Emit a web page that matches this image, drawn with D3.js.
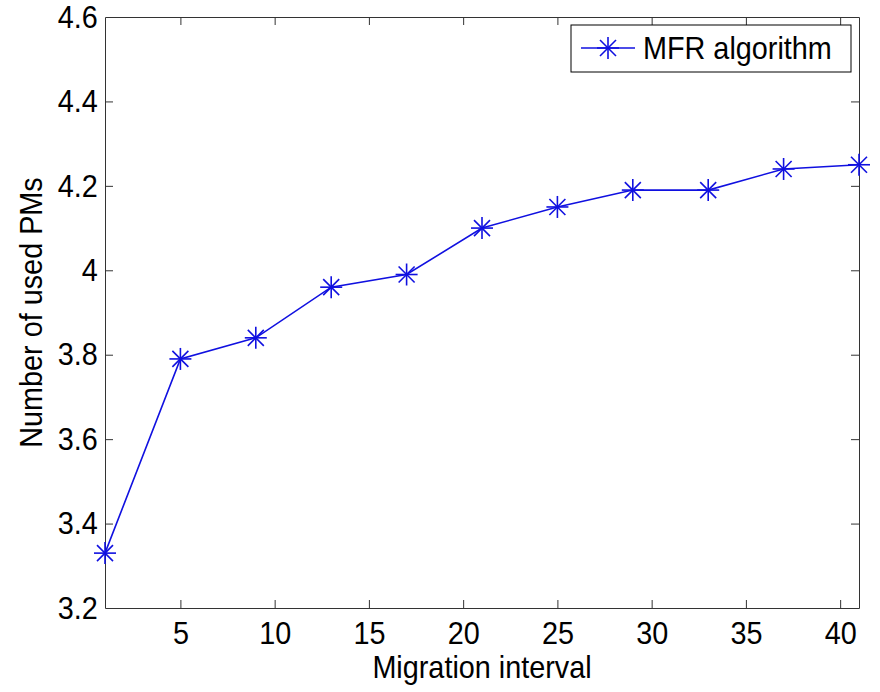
<!DOCTYPE html>
<html>
<head>
<meta charset="utf-8">
<script src="https://cdn.jsdelivr.net/npm/d3@7"></script>
<style>
  body { margin: 0; background: #fff; }
  text { font-family: "Liberation Sans", Arial, sans-serif; fill: #000; }
</style>
</head>
<body>
<div id="chart"></div>
<script>
// data
const intervals = [1, 5, 9, 13, 17, 21, 25, 29, 33, 37, 41];
const usedPMs = [3.33, 3.79, 3.84, 3.96, 3.99, 4.10, 4.15, 4.19, 4.19, 4.24, 4.25];
const xTicks = [5, 10, 15, 20, 25, 30, 35, 40];
const yTicks = [3.2, 3.4, 3.6, 3.8, 4, 4.2, 4.4, 4.6];
const seriesName = "MFR algorithm";

const width = 880, height = 692;
const margin = { top: 17, right: 21, bottom: 84, left: 105 };
const innerW = width - margin.left - margin.right;
const innerH = height - margin.top - margin.bottom;
const blue = "#1010e0";
const axisColor = "#333";
const fontSize = "32px";
const squeeze = "scale(0.9,1)"; // the original text looks a bit narrow

const svg = d3.select("#chart").append("svg")
  .attr("width", width)
  .attr("height", height);

const chart = svg.append("g")
  .attr("transform", `translate(${margin.left},${margin.top})`);

const x = d3.scaleLinear().domain([1, 41]).range([0, innerW]);
const y = d3.scaleLinear().domain([3.2, 4.6]).range([innerH, 0]);

// axes, ticks pointing inward like matlab
const fmtY = d => (d === 4 ? "4" : d3.format(".1f")(d));
const xAxisB = chart.append("g")
  .attr("transform", `translate(0,${innerH})`)
  .call(d3.axisBottom(x).tickValues(xTicks).tickSizeInner(-8).tickSizeOuter(0).tickPadding(13));
const xAxisT = chart.append("g")
  .call(d3.axisTop(x).tickValues(xTicks).tickSizeInner(-8).tickSizeOuter(0).tickFormat(""));
const yAxisL = chart.append("g")
  .call(d3.axisLeft(y).tickValues(yTicks).tickSizeInner(-8).tickSizeOuter(0).tickPadding(8).tickFormat(fmtY));
const yAxisR = chart.append("g")
  .attr("transform", `translate(${innerW},0)`)
  .call(d3.axisRight(y).tickValues(yTicks).tickSizeInner(-8).tickSizeOuter(0).tickFormat(""));

[xAxisB, xAxisT, yAxisL, yAxisR].forEach(a => {
  a.selectAll("path, line").attr("stroke", axisColor);
  a.selectAll("text")
    .style("font-size", fontSize)
    .attr("fill", "#000")
    .attr("transform", squeeze);
});
// first/last ticks sit on the frame, drop those lines
yAxisL.selectAll(".tick line").filter(d => d === 3.2 || d === 4.6).remove();
yAxisR.selectAll(".tick line").filter(d => d === 3.2 || d === 4.6).remove();

// the line
const line = d3.line()
  .x((d, i) => x(intervals[i]))
  .y(d => y(d));

chart.append("path")
  .datum(usedPMs)
  .attr("fill", "none")
  .attr("stroke", blue)
  .attr("stroke-width", 1.6)
  .attr("d", line);

// asterisk markers
function asterisk(g, cx, cy) {
  const r = 11, dg = 8;
  const segs = [
    [-r, 0, r, 0], [0, -r, 0, r],
    [-dg, -dg, dg, dg], [-dg, dg, dg, -dg]
  ];
  g.selectAll(null).data(segs).join("line")
    .attr("x1", s => cx + s[0]).attr("y1", s => cy + s[1])
    .attr("x2", s => cx + s[2]).attr("y2", s => cy + s[3])
    .attr("stroke", blue)
    .attr("stroke-width", 1.6);
}

usedPMs.forEach((v, i) => {
  asterisk(chart.append("g"), x(intervals[i]), y(v));
});

// legend
const lg = svg.append("g").attr("transform", "translate(571,25)");
lg.append("rect")
  .attr("width", 280).attr("height", 47)
  .attr("fill", "#fff").attr("stroke", "#000").attr("stroke-width", 1);
lg.append("line")
  .attr("x1", 10).attr("x2", 64).attr("y1", 23).attr("y2", 23)
  .attr("stroke", blue).attr("stroke-width", 1.6);
asterisk(lg.append("g"), 37, 23);
lg.append("text")
  .attr("transform", `translate(72,23) ${squeeze}`)
  .attr("dy", "0.35em")
  .style("font-size", fontSize)
  .text(seriesName);

// axis titles
svg.append("text")
  .attr("transform", `translate(${margin.left + innerW / 2},678) ${squeeze}`)
  .attr("text-anchor", "middle")
  .style("font-size", fontSize)
  .text("Migration interval");

svg.append("text")
  .attr("transform", `translate(42,${margin.top + innerH / 2}) rotate(-90) ${squeeze}`)
  .attr("text-anchor", "middle")
  .style("font-size", fontSize)
  .text("Number of used PMs");
</script>
</body>
</html>
